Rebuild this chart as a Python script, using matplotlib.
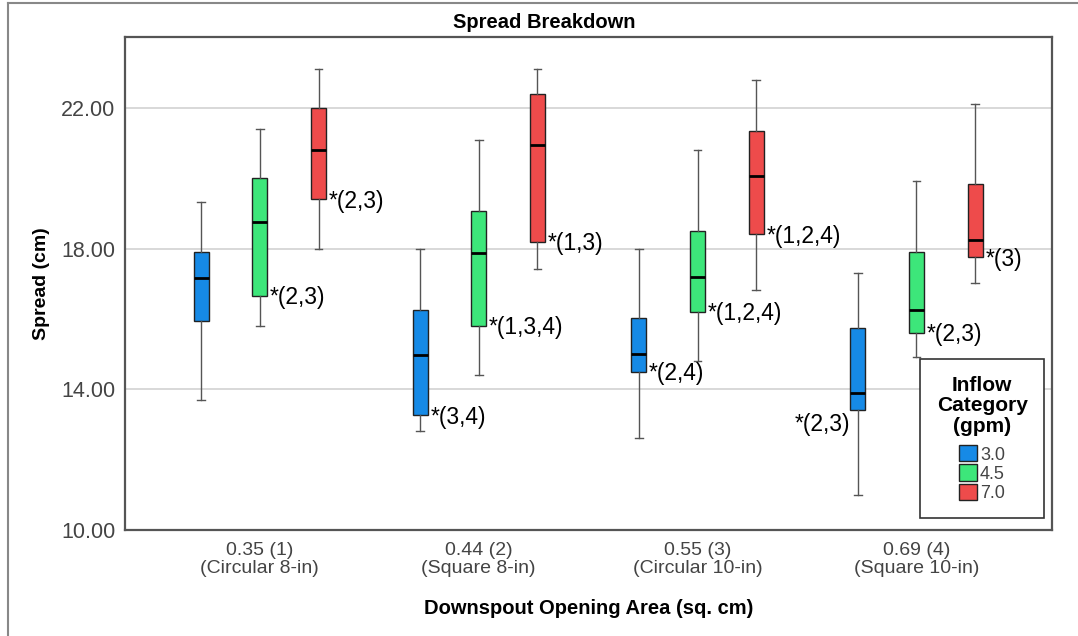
import matplotlib.pyplot as plt
from matplotlib.patches import Patch
from matplotlib.lines import Line2D

plt.rcParams['font.family'] = ['Liberation Sans', 'DejaVu Sans']

# Data (Spread, cm)
categories = ["0.35 (1)\n(Circular 8-in)", "0.44 (2)\n(Square 8-in)",
              "0.55 (3)\n(Circular 10-in)", "0.69 (4)\n(Square 10-in)"]
inflow = ["3.0", "4.5", "7.0"]
colors = ["#168AE6", "#3DE67A", "#EE4B4B"]

whislo = {"3.0": [13.70, 12.81, 12.61, 11.00],
          "4.5": [15.80, 14.42, 14.81, 14.91],
          "7.0": [18.01, 17.42, 16.83, 17.02]}
q1 = {"3.0": [15.95, 13.26, 14.50, 13.41],
      "4.5": [16.67, 15.81, 16.21, 15.61],
      "7.0": [19.42, 18.21, 18.42, 17.77]}
med = {"3.0": [17.17, 14.97, 15.02, 13.91],
       "4.5": [18.76, 17.87, 17.21, 16.26],
       "7.0": [20.82, 20.96, 20.07, 18.26]}
q3 = {"3.0": [17.91, 16.26, 16.02, 15.76],
      "4.5": [20.01, 19.07, 18.52, 17.91],
      "7.0": [22.01, 22.41, 21.36, 19.85]}
whishi = {"3.0": [19.33, 18.01, 18.01, 17.32],
          "4.5": [21.41, 21.11, 20.82, 19.92],
          "7.0": [23.12, 23.12, 22.81, 22.11]}

# significance labels per box
sig = {"3.0": ["", "*(3,4)", "*(2,4)", "*(2,3)"],
       "4.5": ["*(2,3)", "*(1,3,4)", "*(1,2,4)", "*(2,3)"],
       "7.0": ["*(2,3)", "*(1,3)", "*(1,2,4)", "*(3)"]}

fig = plt.figure(figsize=(10.78, 6.36), dpi=100)
ax = fig.add_axes([0.116, 0.1667, 0.860, 0.7751])

offset = 0.268
width = 0.068
for k, key in enumerate(inflow):
    stats = []
    for i in range(len(categories)):
        stats.append(dict(med=med[key][i], q1=q1[key][i], q3=q3[key][i],
                          whislo=whislo[key][i], whishi=whishi[key][i], fliers=[]))
    pos = [i + (k - 1) * offset for i in range(len(categories))]
    ax.bxp(stats, positions=pos, widths=width, patch_artist=True,
           showfliers=False, manage_ticks=False,
           boxprops=dict(facecolor=colors[k], edgecolor="#222222", linewidth=1),
           medianprops=dict(color="black", linewidth=2),
           whiskerprops=dict(color="#555555", linewidth=1),
           capprops=dict(color="#555555", linewidth=1), capwidths=0.035,
           zorder=3)
    for i, p in enumerate(pos):
        lab = sig[key][i]
        if not lab:
            continue
        if key == "3.0" and i == 3:
            ax.annotate(lab, (p - width / 2, q1[key][i]), xytext=(0, -10),
                        textcoords="offset points", ha="right", va="center",
                        fontsize=16.5, zorder=4)
        else:
            ax.annotate(lab, (p + width / 2, q1[key][i]), xytext=(2, -1.5),
                        textcoords="offset points", ha="left", va="center",
                        fontsize=16.5, zorder=4)

ax.set_xlim(-0.616, 3.62)
ax.set_ylim(10, 24.03)
ax.set_yticks([10, 14, 18, 22])
ax.set_yticklabels(["10.00", "14.00", "18.00", "22.00"])
ax.set_xticks(range(len(categories)))
ax.set_xticklabels(categories, linespacing=1.05)
ax.tick_params(length=0, labelcolor="#444444")
ax.tick_params(axis="x", labelsize=14, pad=9)
ax.tick_params(axis="y", labelsize=15.5, pad=7)
for y in [14, 18, 22]:
    ax.axhline(y, color="#d6d6d6", linewidth=1.3, zorder=1)
for s in ax.spines.values():
    s.set_color("#555555")
    s.set_linewidth(1.6)

ax.set_ylabel("Spread (cm)", fontsize=14, fontweight="bold", labelpad=8)
ax.set_xlabel("Downspout Opening Area (sq. cm)", fontsize=14.5, fontweight="bold", labelpad=16)
fig.text(0.505, 0.965, "Spread Breakdown", ha="center", va="center",
         fontsize=14.5, fontweight="bold")

handles = [Patch(facecolor=c, edgecolor="#222222", linewidth=1) for c in colors]
leg = ax.legend(handles, inflow, title="Inflow\nCategory\n(gpm)",
                loc="lower right", bbox_to_anchor=(0.991, 0.024), borderaxespad=0,
                fontsize=13, title_fontproperties=dict(weight="bold", size=15),
                handlelength=1.0, handleheight=1.0, handletextpad=0.15,
                labelspacing=0.05, borderpad=0.9, fancybox=False,
                framealpha=1, edgecolor="#333333")
leg.get_title().set_multialignment("center")
leg.get_title().set_linespacing(1.1)
leg._legend_box.sep = 7
leg.get_frame().set_linewidth(1.2)
leg.set_zorder(5)
for t in leg.get_texts():
    t.set_color("#444444")

# outer frame lines
fig.add_artist(Line2D([0.0074, 1.0], [0.9953, 0.9953], color="#888888", linewidth=1.5))
fig.add_artist(Line2D([0.0074, 0.0074], [0.0, 0.9953], color="#888888", linewidth=1.5))

fig.savefig("out.png", dpi=100)
